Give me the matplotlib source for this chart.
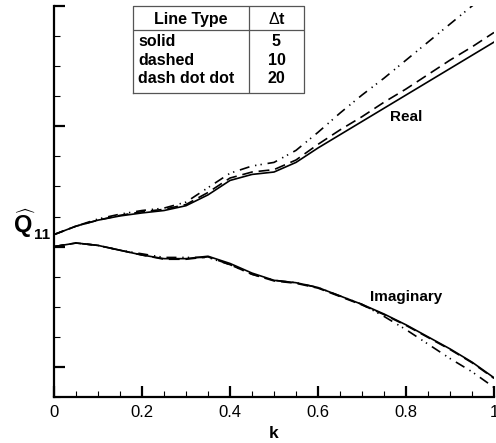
import numpy as np
import matplotlib.pyplot as plt
from matplotlib.ticker import MultipleLocator, NullFormatter

plt.rcParams['font.family'] = ['Liberation Sans', 'DejaVu Sans']
plt.rcParams['mathtext.fontset'] = 'custom'
plt.rcParams['mathtext.rm'] = 'Liberation Sans'
plt.rcParams['mathtext.bf'] = 'Liberation Sans:bold'

k = [0.0, 0.05, 0.1, 0.15, 0.2, 0.25, 0.3, 0.35, 0.4, 0.45, 0.5,
     0.55, 0.6, 0.65, 0.7, 0.75, 0.8, 0.85, 0.9, 0.95, 1.0]

# real part, one series per time step
real_dt5 = [1.10, 1.17, 1.22, 1.255, 1.28, 1.30, 1.34, 1.43, 1.55, 1.60, 1.62,
            1.70, 1.82, 1.93, 2.04, 2.15, 2.26, 2.37, 2.48, 2.59, 2.70]
real_dt10 = [1.10, 1.17, 1.22, 1.26, 1.29, 1.31, 1.35, 1.45, 1.57, 1.62, 1.64,
             1.72, 1.85, 1.97, 2.08, 2.20, 2.31, 2.43, 2.55, 2.66, 2.78]
real_dt20 = [1.10, 1.17, 1.23, 1.27, 1.30, 1.32, 1.37, 1.49, 1.61, 1.67, 1.70,
             1.80, 1.95, 2.11, 2.26, 2.40, 2.55, 2.70, 2.85, 3.00, 3.14]

# imaginary part
imag_dt5 = [1.00, 1.03, 1.01, 0.97, 0.93, 0.90, 0.90, 0.92, 0.86, 0.78, 0.72,
            0.70, 0.66, 0.59, 0.52, 0.44, 0.35, 0.25, 0.15, 0.04, -0.09]
imag_dt10 = [1.00, 1.03, 1.01, 0.97, 0.93, 0.895, 0.895, 0.915, 0.85, 0.77, 0.715,
             0.695, 0.655, 0.585, 0.515, 0.435, 0.345, 0.245, 0.145, 0.035, -0.095]
imag_dt20 = [1.00, 1.03, 1.01, 0.97, 0.94, 0.91, 0.91, 0.91, 0.85, 0.77, 0.72,
             0.70, 0.66, 0.59, 0.52, 0.42, 0.31, 0.19, 0.07, -0.04, -0.17]

line_types = ["solid", "dashed", "dash dot dot"]
dt_values = ["5", "10", "20"]

fig = plt.figure(figsize=(4.96, 4.43), dpi=100)
ax = fig.add_axes([54 / 496, 46 / 443, 440 / 496, 391 / 443])

dashdotdot = (0, (6, 3.5, 0.8, 2.5, 0.8, 3.5))
styles = ['-', (0, (6.5, 3.5)), dashdotdot]
lw = 1.2
for re, im, ls in zip([real_dt5, real_dt10, real_dt20],
                      [imag_dt5, imag_dt10, imag_dt20], styles):
    ax.plot(k, re, color='black', lw=lw, linestyle=ls)
    ax.plot(k, im, color='black', lw=lw, linestyle=ls)

ax.set_xlim(0, 1)
ax.set_ylim(-0.25, 3.0)

for side in ['top', 'right']:
    ax.spines[side].set_visible(False)
for side in ['left', 'bottom']:
    ax.spines[side].set_linewidth(1.6)

ax.xaxis.set_major_locator(MultipleLocator(0.2))
ax.xaxis.set_minor_locator(MultipleLocator(0.05))
ax.yaxis.set_major_locator(MultipleLocator(1.0))
ax.yaxis.set_minor_locator(MultipleLocator(0.25))
ax.yaxis.set_major_formatter(NullFormatter())
ax.set_xticks([0, 0.2, 0.4, 0.6, 0.8, 1.0])
ax.set_xticklabels(['0', '0.2', '0.4', '0.6', '0.8', '1'])
ax.tick_params(which='major', direction='in', length=8, width=1.6,
               labelsize=12, pad=6)
ax.tick_params(which='minor', direction='in', length=4.5, width=0.8)

ax.set_xlabel('k', fontsize=12.5, fontweight='bold', labelpad=4)
# y label: hatted Q with a subscript 11
fig.text(13 / 496, 1 - 233 / 443, r'$\widehat{\mathbf{Q}}$',
         fontsize=17, ha='left', va='baseline')
fig.text(34 / 496, 1 - 239 / 443, '11', fontsize=11, fontweight='bold',
         ha='left', va='baseline')

ax.text(0.80, 2.08, 'Real', fontsize=11, fontweight='bold',
        ha='center', va='center')
ax.text(0.80, 0.58, 'Imaginary', fontsize=11, fontweight='bold',
        ha='center', va='center')

# legend table
tab = fig.add_axes([133 / 496, 1 - 93 / 443, 171 / 496, 87 / 443])
tab.set_xlim(0, 1)
tab.set_ylim(0, 1)
tab.axis('off')
edge = '#555555'
tab.plot([0, 1, 1, 0, 0], [0, 0, 1, 1, 0], color=edge, lw=0.9, clip_on=False)
tab.plot([0, 1], [0.724, 0.724], color=edge, lw=0.9)
tab.plot([0.678, 0.678], [0, 1], color=edge, lw=0.9)
tab.text(0.339, 0.845, 'Line Type', fontsize=11.5, fontweight='bold',
         ha='center', va='center')
tab.text(0.839, 0.845, r'$\Delta$t', fontsize=11.5, fontweight='bold',
         ha='center', va='center')
for i, (lt, dt) in enumerate(zip(line_types, dt_values)):
    yy = 0.59 - i * 0.213
    tab.text(0.03, yy, lt, fontsize=11.5, fontweight='bold',
             ha='left', va='center')
    tab.text(0.839, yy, dt, fontsize=11.5, fontweight='bold',
             ha='center', va='center')

fig.savefig('out.png', dpi=100)
